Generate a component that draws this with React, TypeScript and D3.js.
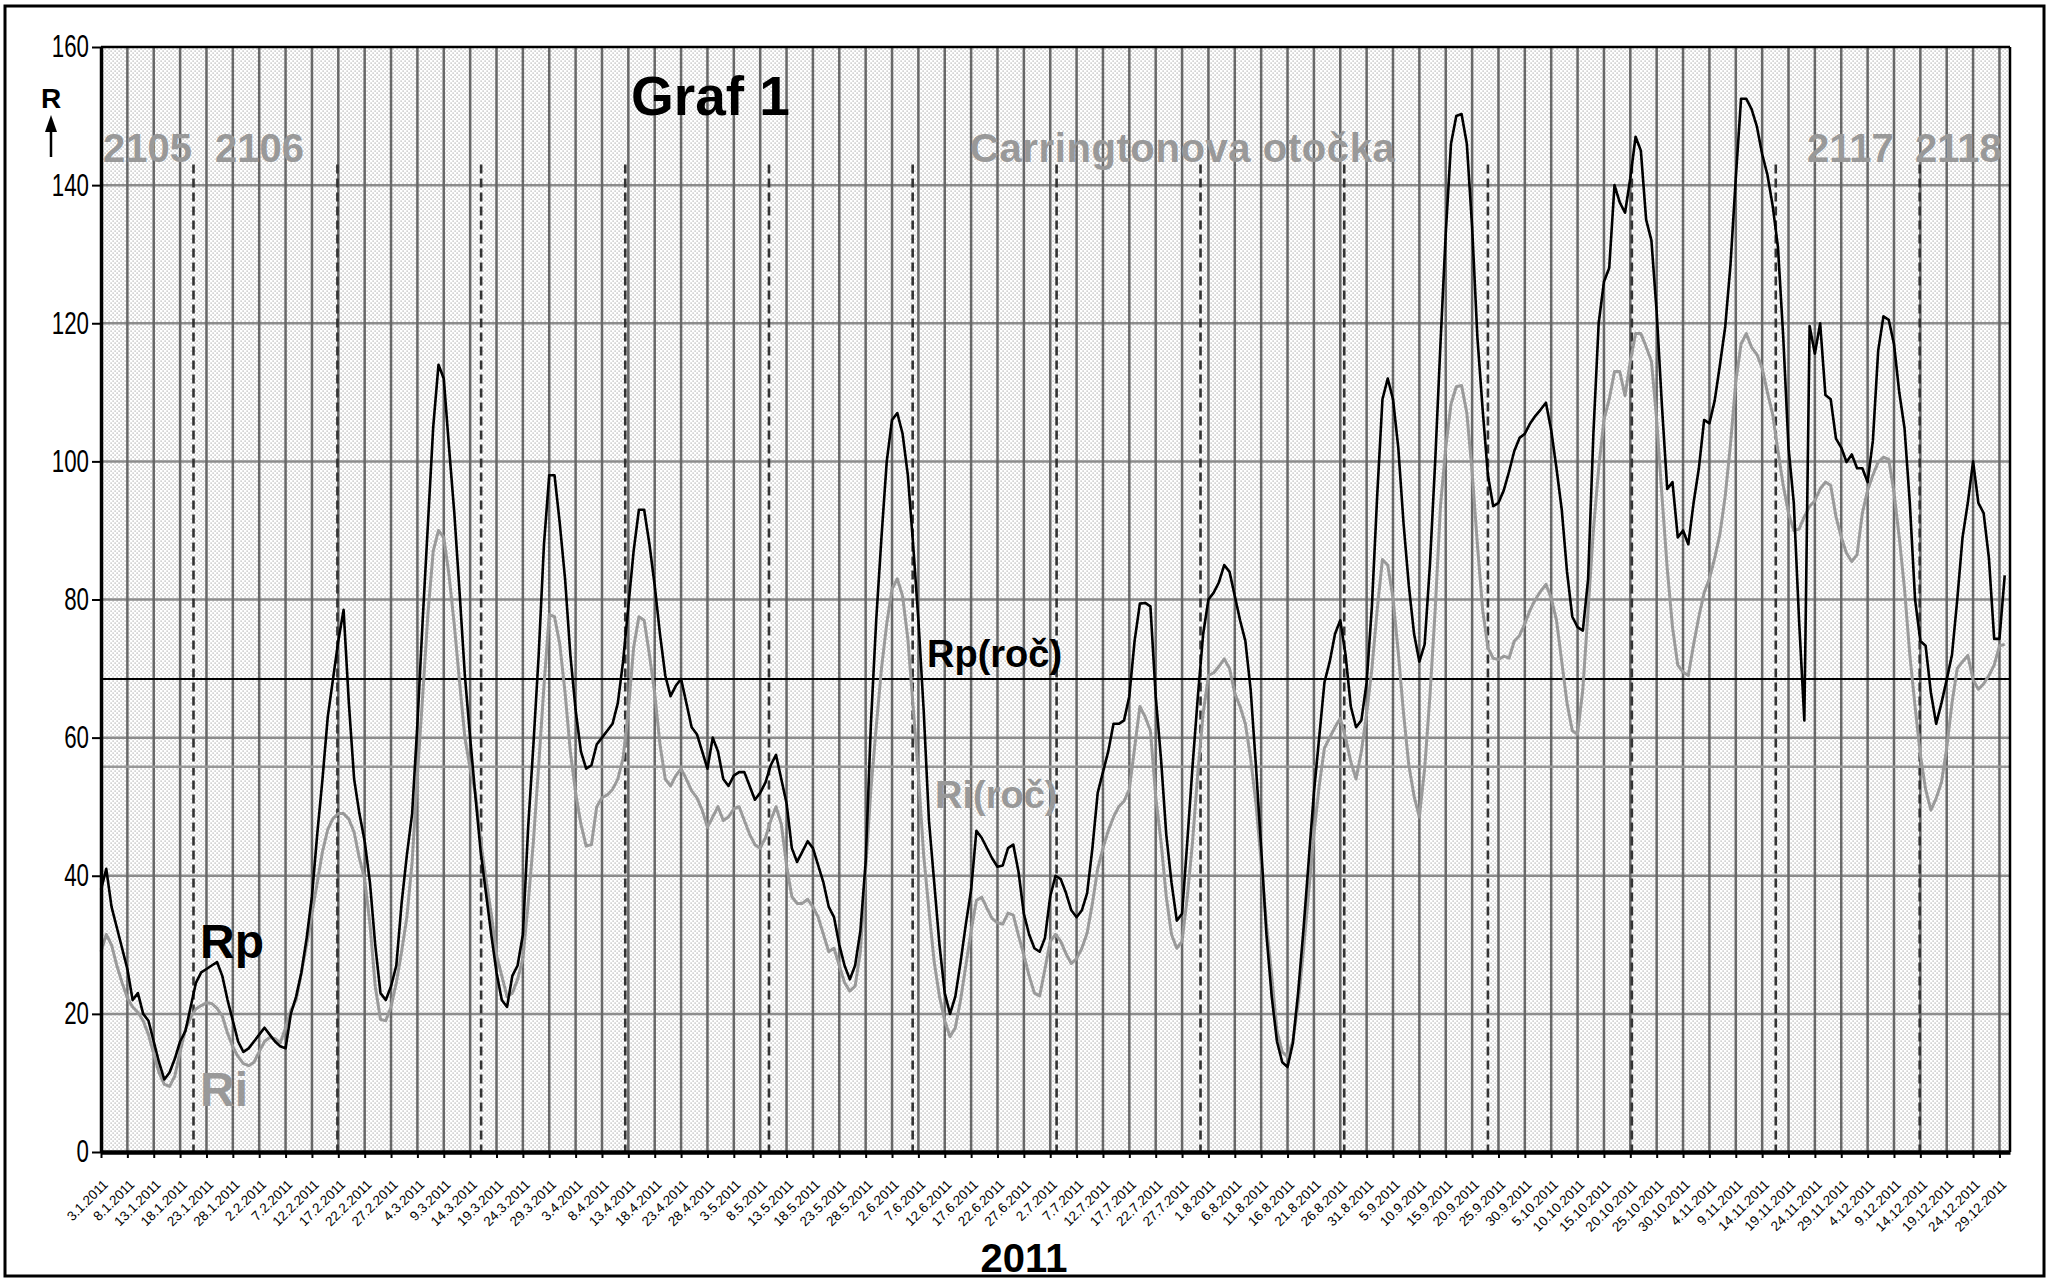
import React, { Component } from "react";
import * as d3 from "d3";

// day 0 = 3.1.2011, one value per day
const START = new Date(Date.UTC(2011, 0, 3));
const END = new Date(Date.UTC(2011, 11, 31));

const rpValues = [
  38, 41, 35.5, 32.5, 29.5, 26.5, 22, 23, 20, 19,
  16, 13, 10.5, 11.5, 13.5, 16, 17.5, 21, 24.5, 26,
  26.5, 27, 27.5, 25.5, 22, 19, 16, 14.5, 15, 16,
  17, 18, 17, 16, 15.3, 15, 20, 22.5, 26, 31,
  37, 46, 54, 63, 68.5, 74, 78.5, 65, 54, 49,
  45, 39, 30, 23, 22, 24, 27, 36, 43, 49,
  62, 77, 91, 105, 114, 112, 102, 92.5, 81, 69,
  60, 51.5, 43.5, 37.5, 31.5, 26, 22, 21, 25.5, 27,
  31.5, 47, 59, 72, 88, 98, 98, 91, 83, 72,
  64, 58, 55.5, 56, 59, 60, 61, 62, 65, 71,
  79, 87, 93, 93, 88, 82, 75, 69, 66, 67.5,
  68.5, 65, 61.5, 60.5, 58, 55.5, 60, 58, 54, 53,
  54.5, 55, 55, 53, 51, 52, 53.5, 56, 57.5, 54,
  50.5, 44, 42, 43.5, 45, 44, 41.5, 39, 35.5, 34,
  30, 27, 25, 27, 32, 42, 62, 77, 89, 100,
  106, 107, 104, 98, 88, 77, 64, 48, 39, 30,
  23, 20, 22.5, 27.5, 33, 38, 46.5, 45.5, 44, 42.5,
  41.3, 41.5, 44, 44.5, 40.5, 34.5, 31.5, 29.5, 29, 31,
  37, 40, 39.5, 37.5, 35, 34, 35, 37.5, 44, 52,
  55, 58, 62, 62, 62.5, 66, 74, 79.4, 79.5, 79,
  66, 57, 46, 39, 33.5, 34.5, 45, 56, 66, 75,
  80, 81, 82.5, 85, 84, 80.5, 77, 74, 67, 56,
  44, 31.5, 22.5, 16, 13, 12.3, 15.7, 23, 32, 42,
  52, 60, 68, 71, 75, 77, 72, 64.5, 61.5, 62.5,
  68, 79, 95, 109, 112, 109, 102, 91, 82, 75,
  71, 73.5, 85, 100, 117, 133, 146, 150, 150.3, 146,
  134, 118, 107.5, 98, 93.5, 94, 95.8, 98.5, 101.5, 103.4,
  104, 105.5, 106.6, 107.5, 108.5, 104.5, 99, 93, 84, 77.5,
  76, 75.5, 83, 104, 120, 126, 128, 140, 137.5, 136,
  141, 147, 145, 135, 132, 121.6, 108, 96, 97, 89,
  90, 88, 94, 99, 106, 105.5, 108.8, 114, 119.5, 128.5,
  141, 152.5, 152.5, 151, 148.5, 144.5, 141.5, 137, 131, 118,
  102, 94, 77, 62.5, 119.6, 115.6, 120, 109.6, 109, 103.3,
  102, 99.9, 101, 99, 99, 97, 103, 116, 121, 120.5,
  117, 110, 104.8, 94, 80, 74, 73.3, 66.5, 62, 65,
  68.4, 72, 80, 89, 94, 100, 94, 92.5, 86, 74.3,
  74.3, 83.5,
];

const riValues = [
  29, 31.5, 30, 27, 24.5, 22.3, 21, 20.2, 19, 17,
  14.2, 11.5, 9.8, 9.5, 11, 14.5, 17.7, 19.5, 20.7, 21.2,
  21.6, 21.5, 20.8, 19.7, 17.2, 15.2, 13.8, 12.8, 12.5, 13,
  14.5, 16, 16.6, 16.4, 15.8, 18, 20.5, 22, 26, 30,
  34.5, 39, 43.5, 46.7, 48.3, 49, 49, 48.2, 46.3, 42.5,
  39.5, 33, 24, 19.2, 19, 21, 24.5, 29, 34, 42,
  54.6, 66, 78, 87, 90, 89, 83.5, 76.3, 68, 60,
  55.5, 52, 45, 39.5, 34.5, 28.5, 25.5, 22.5, 23, 25,
  28, 36, 45, 56, 67.5, 77.8, 77.5, 73.5, 66.5, 58,
  52, 47.5, 44.3, 44.5, 50, 51.3, 51.7, 52.5, 54, 57,
  64, 73, 77.5, 77, 72, 66.4, 59, 54, 53, 54.5,
  55.5, 54, 52.3, 51.3, 49.5, 47, 48.5, 50, 48, 48.5,
  49.7, 50, 48, 46, 44.5, 44, 45.5, 48, 50, 47.5,
  41.5, 37, 36, 36, 36.6, 35.5, 34, 31.5, 29, 29.5,
  27, 24.5, 23.3, 24, 29, 41, 52.5, 61.5, 70, 76.5,
  81.5, 83, 80.5, 74.3, 64.5, 54.6, 43, 35, 27.5, 22.5,
  19, 16.7, 18, 22, 27, 32, 36.4, 36.9, 35.3, 33.8,
  33.2, 33, 34.6, 34.3, 31.3, 28.5, 25.5, 23, 22.6, 26.5,
  30.5, 31.5, 30.5, 28.7, 27.3, 28, 29.5, 31.7, 36, 41,
  44, 46.5, 48.5, 50, 50.8, 52.5, 58.5, 64.5, 63, 61,
  51.5, 45, 37, 31.5, 29.5, 30.5, 37, 45, 55, 63.5,
  69, 69.4, 70.3, 71.4, 70, 66.4, 64.5, 62, 57, 50.5,
  42, 33, 25.5, 17.5, 14.5, 13.8, 16, 21.5, 29, 37.5,
  46, 53, 58.5, 60, 61.5, 62.8, 60, 56.5, 54, 58,
  63.5, 70, 78.5, 85.8, 85, 80.2, 72.3, 63.5, 56, 51.5,
  48.5, 55.5, 66, 78.5, 93.5, 102, 108.3, 110.8, 111, 107,
  98.5, 88, 78.5, 73, 71.5, 71.3, 71.8, 71.5, 74, 74.8,
  76.5, 78.5, 80, 81.2, 82.2, 80.2, 77, 71, 65, 61,
  60.5, 67, 78.5, 90, 99, 106, 109, 113, 113, 109.5,
  114.5, 118.5, 118.5, 116.6, 114.5, 106, 95, 84.5, 76, 70.5,
  69.5, 69, 73.5, 77.5, 81, 83, 86, 89.5, 95, 102.5,
  111.5, 117, 118.5, 116.5, 115.5, 113.5, 110, 106.8, 101.5, 96.5,
  92.5, 90, 90.2, 92, 93.5, 94.3, 96, 97, 96.5, 92,
  89, 86.7, 85.5, 86.5, 92.5, 95.8, 98, 99.9, 100.6, 100.3,
  95.5, 89, 81.5, 72, 64.5, 57.5, 52.5, 49.5, 51.2, 53.5,
  58.5, 65, 70, 71, 71.9, 68.4, 67, 67.8, 69, 70.5,
  73.3, 73.5,
];

const rpYear = 68.5;
const riYear = 55.8;

const yTicks = [0, 20, 40, 60, 80, 100, 120, 140, 160];
const tickDays = d3.range(0, 361, 5);

// Carringtonove otočky 2106 - 2118 (zaciatky)
const rotationStarts = [
  "2011-01-20T13:00Z", "2011-02-16T20:00Z", "2011-03-16T02:00Z", "2011-04-12T10:00Z",
  "2011-05-09T16:00Z", "2011-06-05T22:00Z", "2011-07-03T05:00Z", "2011-07-30T12:00Z",
  "2011-08-26T18:00Z", "2011-09-23T00:00Z", "2011-10-20T07:00Z", "2011-11-16T14:00Z",
  "2011-12-13T21:00Z",
];
const rotationTop = 143;
const rotationLabels = ["2105", "2106", "Carringtonova otočka", "2117", "2118"];

const FONT = "'Liberation Sans', Arial, sans-serif";

class App extends Component {
  el: SVGSVGElement | null = null;

  drawChart() {
    const svg = d3.select(this.el);
    svg.selectAll("*").remove();

    const left = 101, right = 2010, top = 47, bottom = 1152;
    const x = d3.scaleUtc().domain([START, END]).range([left, right]);
    const y = d3.scaleLinear().domain([0, 160]).range([bottom, top]);
    const day = (i: number) => d3.utcDay.offset(START, i);

    const pat = svg.append("defs").append("pattern")
        .attr("id", "dots")
        .attr("width", 4)
        .attr("height", 4)
        .attr("patternUnits", "userSpaceOnUse");
    pat.append("rect").attr("width", 4).attr("height", 4).attr("fill", "#fff");
    pat.append("rect").attr("x", 0.5).attr("y", 0.5).attr("width", 1.2).attr("height", 1.2).attr("fill", "#a8a8a8");
    pat.append("rect").attr("x", 2.5).attr("y", 2.5).attr("width", 1.2).attr("height", 1.2).attr("fill", "#a8a8a8");

    svg.append("rect").attr("width", 2055).attr("height", 1281).attr("fill", "#fff");
    svg.append("rect")
        .attr("x", 5).attr("y", 6).attr("width", 2039).attr("height", 1270)
        .attr("fill", "none").attr("stroke", "#000").attr("stroke-width", 3);

    svg.append("rect")
        .attr("x", left).attr("y", top)
        .attr("width", right - left).attr("height", bottom - top)
        .attr("fill", "url(#dots)");

    // mriezka
    svg.append("g").selectAll("line")
        .data(yTicks.filter((v) => v > 0 && v < 160))
        .join("line")
        .attr("x1", left).attr("x2", right)
        .attr("y1", (d) => y(d)).attr("y2", (d) => y(d))
        .attr("stroke", "#8c8c8c").attr("stroke-width", 2.5);

    svg.append("g").selectAll("line")
        .data(tickDays.filter((d) => d > 0))
        .join("line")
        .attr("x1", (d) => x(day(d))).attr("x2", (d) => x(day(d)))
        .attr("y1", top).attr("y2", bottom)
        .attr("stroke", "#686868").attr("stroke-width", 2.5);

    svg.append("g").selectAll("line")
        .data(rotationStarts.map((s) => new Date(s)))
        .join("line")
        .attr("x1", (d) => x(d)).attr("x2", (d) => x(d))
        .attr("y1", y(rotationTop)).attr("y2", bottom)
        .attr("stroke", "#333").attr("stroke-width", 2.6)
        .attr("stroke-dasharray", "9,5");

    // rocne priemery
    svg.append("line")
        .attr("x1", left).attr("x2", right)
        .attr("y1", y(riYear)).attr("y2", y(riYear))
        .attr("stroke", "#999").attr("stroke-width", 2.5);
    svg.append("line")
        .attr("x1", left).attr("x2", right)
        .attr("y1", y(rpYear)).attr("y2", y(rpYear))
        .attr("stroke", "#000").attr("stroke-width", 2);

    const line = d3.line<number>()
        .x((d, i) => x(day(i)))
        .y((d) => y(d));

    svg.append("path")
        .attr("d", line(riValues))
        .attr("fill", "none").attr("stroke", "#9a9a9a").attr("stroke-width", 3)
        .attr("stroke-linejoin", "round");
    svg.append("path")
        .attr("d", line(rpValues))
        .attr("fill", "none").attr("stroke", "#000").attr("stroke-width", 2.6)
        .attr("stroke-linejoin", "round");

    // ramik grafu
    svg.append("line").attr("x1", left).attr("x2", right).attr("y1", top).attr("y2", top)
        .attr("stroke", "#000").attr("stroke-width", 2.5);
    svg.append("line").attr("x1", right).attr("x2", right).attr("y1", top).attr("y2", bottom)
        .attr("stroke", "#000").attr("stroke-width", 2.5);

    // osi
    const yAxis = svg.append("g")
        .attr("transform", `translate(${left},0)`)
        .call(d3.axisLeft(y).tickValues(yTicks).tickSize(9).tickSizeOuter(0).tickPadding(3));
    yAxis.select(".domain").attr("stroke", "#000").attr("stroke-width", 3.5);
    yAxis.selectAll(".tick line").attr("stroke", "#000").attr("stroke-width", 2);
    // uzsie pismo (ako Arial Narrow)
    yAxis.selectAll(".tick text")
        .attr("font-family", FONT).attr("font-size", 31).attr("fill", "#000")
        .attr("x", -12 / 0.72)
        .attr("transform", "scale(0.72,1)");

    const xAxis = svg.append("g")
        .attr("transform", `translate(0,${bottom})`)
        .call(d3.axisBottom(x)
            .tickValues(tickDays.map(day))
            .tickSize(6)
            .tickSizeOuter(0)
            .tickFormat(d3.utcFormat("%-d.%-m.%Y") as any));
    xAxis.select(".domain").attr("stroke", "#000").attr("stroke-width", 4.5);
    xAxis.selectAll(".tick line").attr("stroke", "#000").attr("stroke-width", 2);
    xAxis.selectAll(".tick text")
        .attr("font-family", FONT).attr("font-size", 13.5).attr("fill", "#000")
        .attr("text-anchor", "end")
        .attr("x", 0).attr("y", 0).attr("dy", "0.35em")
        .attr("transform", "translate(4,30) rotate(-45)");

    const text = (s: string, tx: number, ty: number, size: number, fill: string, anchor = "start") =>
      svg.append("text")
          .attr("x", tx).attr("y", ty)
          .attr("font-family", FONT).attr("font-weight", "bold")
          .attr("font-size", size).attr("fill", fill)
          .attr("text-anchor", anchor)
          .text(s);

    // popisy otociek
    text(rotationLabels[0], 103, 162, 40, "#999");
    text(rotationLabels[1], 215, 162, 40, "#999");
    text(rotationLabels[2], 970, 162, 40, "#999").attr("letter-spacing", 0.6);
    text(rotationLabels[3], 1807, 162, 40, "#999");
    text(rotationLabels[4], 1915, 162, 40, "#999");

    text("Graf 1", 631, 115, 55, "#000");
    text("Rp", 200, 958, 48, "#000");
    text("Ri", 200, 1106, 48, "#999");
    text("Rp(roč)", 927, 667, 38, "#000");
    text("Ri(roč)", 935, 808, 38, "#999");
    text("2011", 1024, 1272, 40, "#000", "middle");

    // R so sipkou
    text("R", 51, 108, 28, "#000", "middle");
    svg.append("path").attr("d", "M45,132 L57,132 L51,115 Z").attr("fill", "#000");
    svg.append("line").attr("x1", 51).attr("x2", 51).attr("y1", 130).attr("y2", 157)
        .attr("stroke", "#000").attr("stroke-width", 2.5);
  }

  componentDidMount() {
    this.drawChart();
  }

  render() {
    return (
      <svg
        ref={(el) => {
          this.el = el;
        }}
        width={2055}
        height={1281}
        style={{ position: "absolute", left: 0, top: 0, display: "block" }}
      />
    );
  }
}

export default App;
